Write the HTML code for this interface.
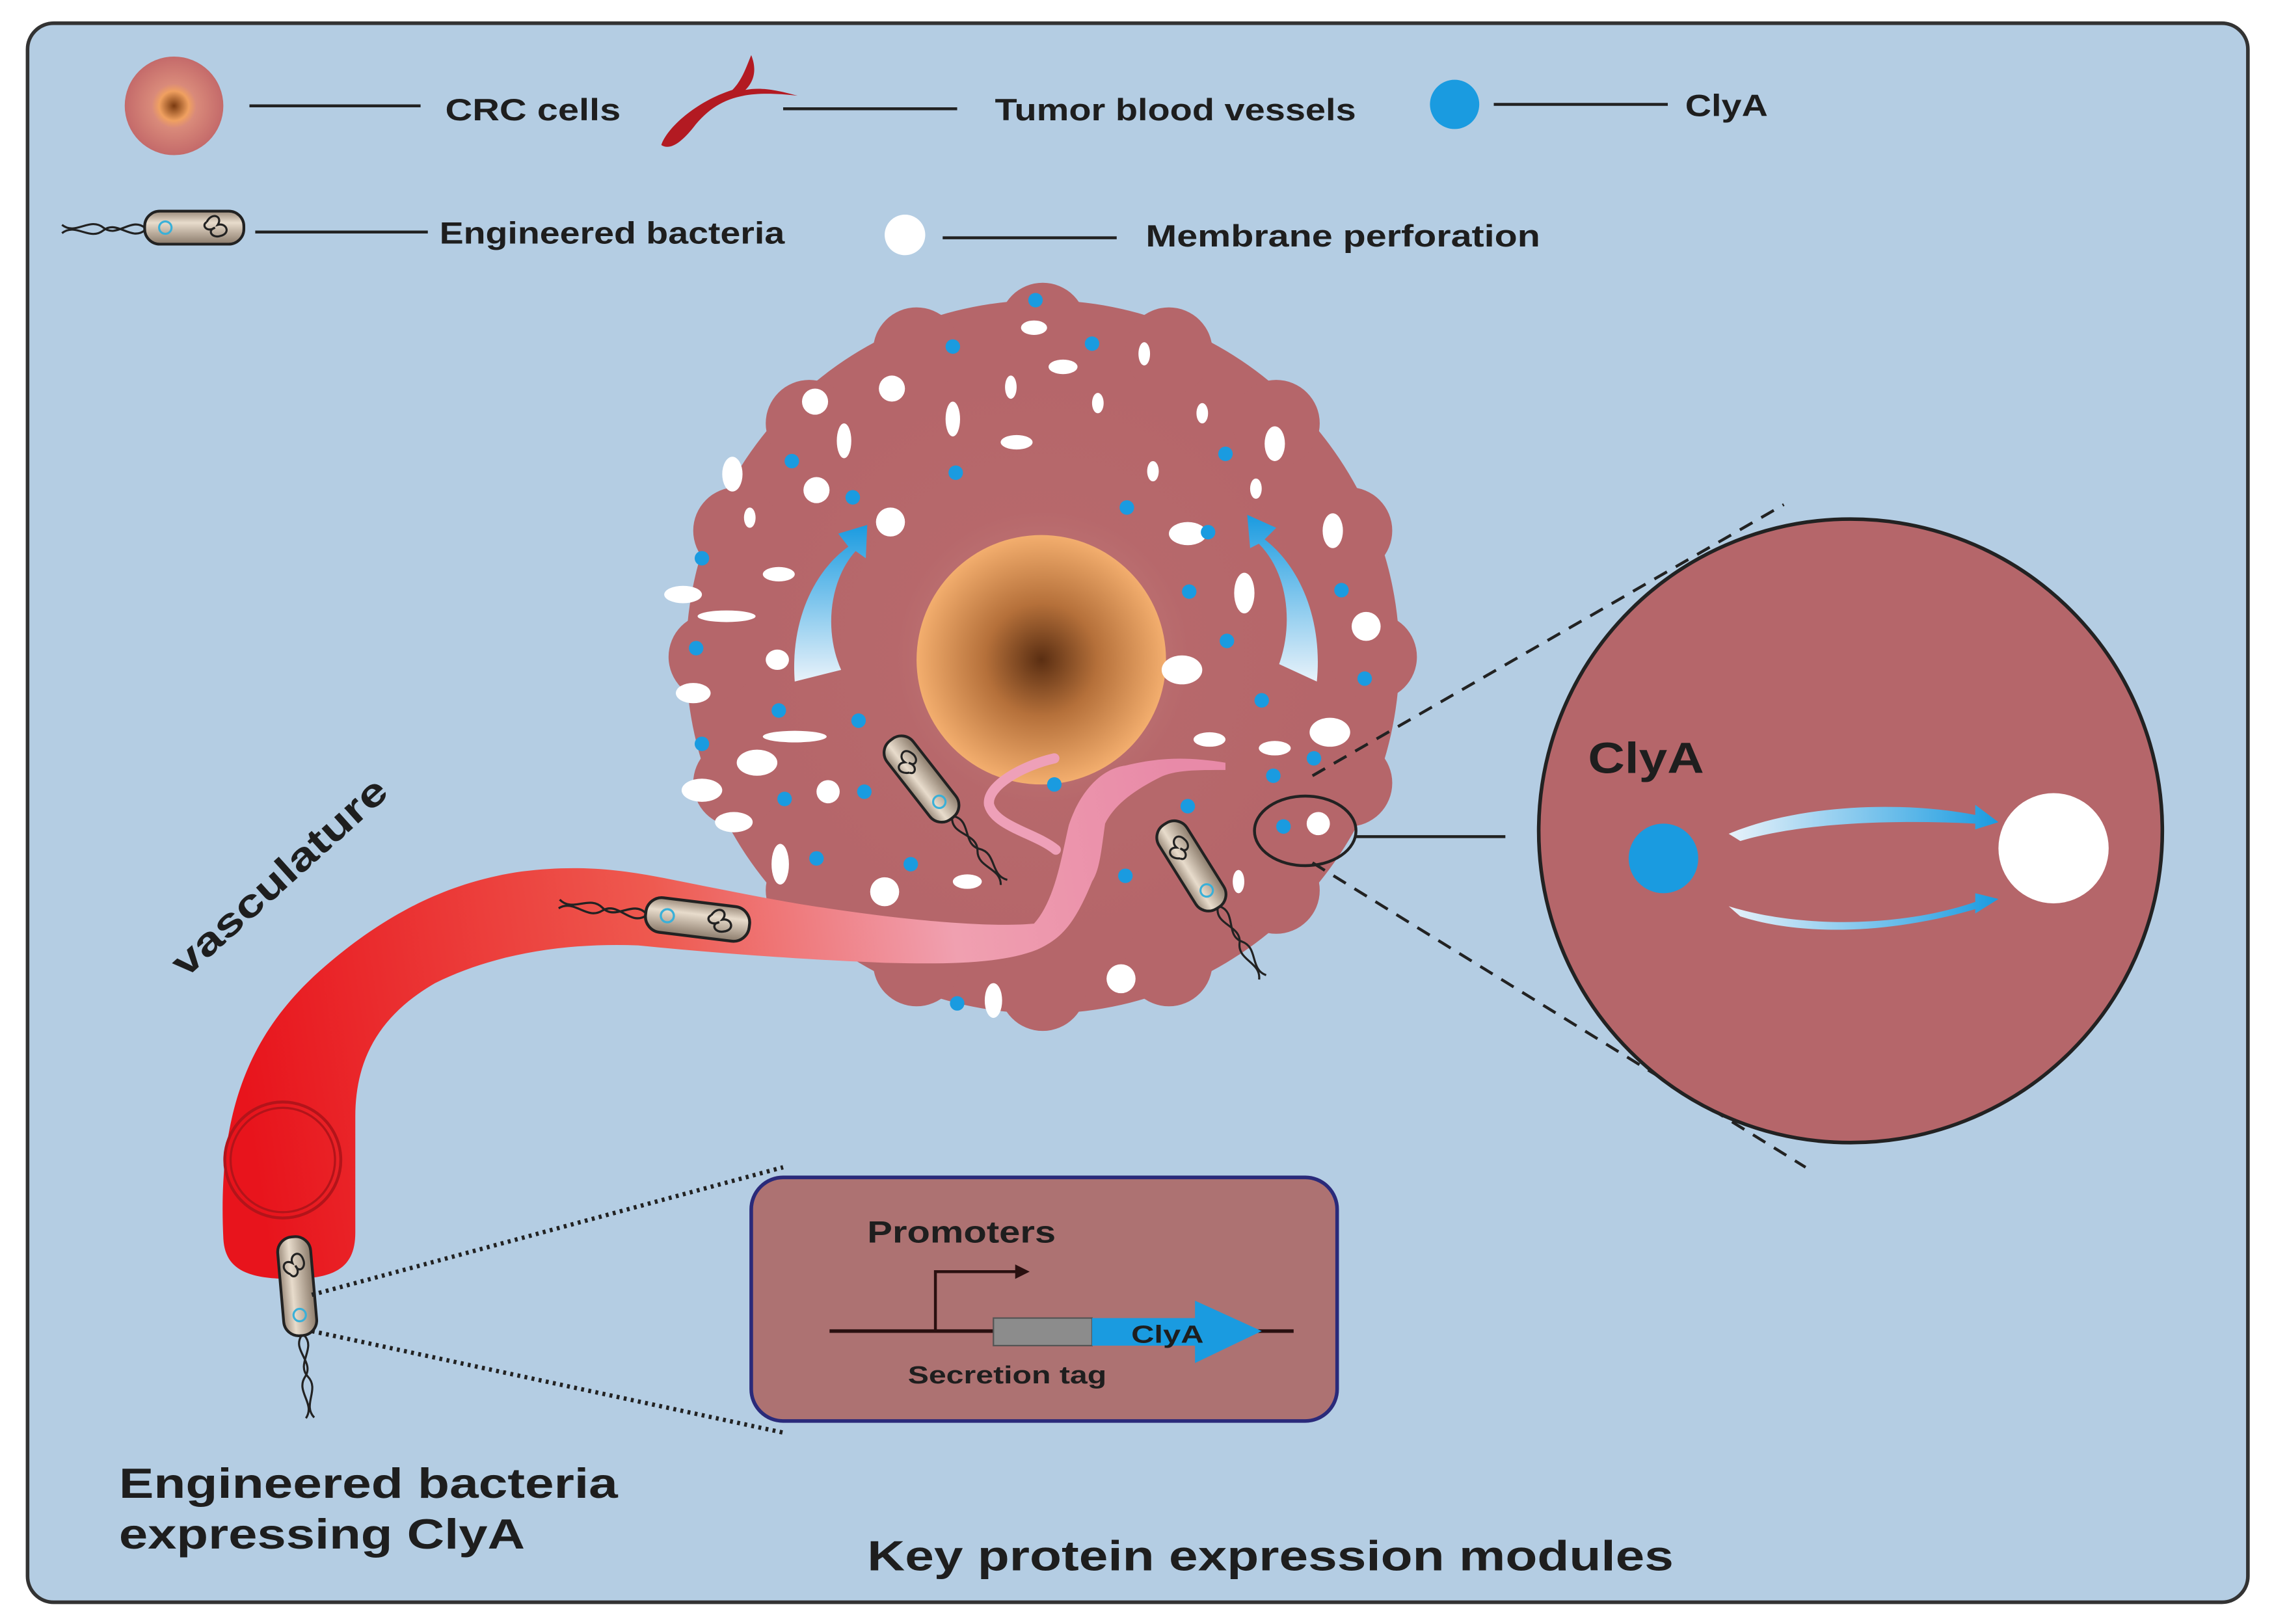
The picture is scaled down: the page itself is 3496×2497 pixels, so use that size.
<!DOCTYPE html>
<html><head><meta charset="utf-8"><style>
html,body{margin:0;padding:0;background:#fff}
svg{display:block}
text{font-family:"Liberation Sans",sans-serif;font-weight:bold;fill:#1e1e1e}
</style></head><body>
<svg width="3496" height="2497" viewBox="0 0 1568 1120" preserveAspectRatio="none" xmlns="http://www.w3.org/2000/svg">
<defs>
<radialGradient id="nuc" cx="0.5" cy="0.5" r="0.5"><stop offset="0" stop-color="#5a2e12"/><stop offset="0.45" stop-color="#b5703a"/><stop offset="1" stop-color="#f3ae6e"/></radialGradient>
<radialGradient id="cellg" cx="0.5" cy="0.5" r="0.5"><stop offset="0" stop-color="#d89a90"/><stop offset="0.5" stop-color="#b86a6c"/><stop offset="1" stop-color="#b5666a"/></radialGradient>
<radialGradient id="lcell" cx="0.5" cy="0.5" r="0.5"><stop offset="0" stop-color="#7a3a10"/><stop offset="0.3" stop-color="#f0a060"/><stop offset="0.45" stop-color="#d98a7a"/><stop offset="1" stop-color="#c46a6a"/></radialGradient>
<linearGradient id="bact" x1="0" y1="0" x2="0" y2="1"><stop offset="0" stop-color="#9a8a7a"/><stop offset="0.35" stop-color="#e8dccc"/><stop offset="1" stop-color="#8a7a6a"/></linearGradient>
<linearGradient id="vessel" gradientUnits="userSpaceOnUse" x1="160" y1="700" x2="820" y2="600"><stop offset="0" stop-color="#e8141c"/><stop offset="0.45" stop-color="#ee5a50"/><stop offset="0.75" stop-color="#f0a0b0"/><stop offset="1" stop-color="#e88aa8"/></linearGradient>
<linearGradient id="barr" x1="0" y1="0" x2="1" y2="0"><stop offset="0" stop-color="#e8f2fa"/><stop offset="1" stop-color="#1a9be0"/></linearGradient>
<linearGradient id="barr2" x1="0" y1="1" x2="0" y2="0"><stop offset="0" stop-color="#e8f2fa"/><stop offset="1" stop-color="#1a9be0"/></linearGradient>
<g id="bac">
<path d="M-35,0 C-45,-8 -55,8 -65,0 C-75,-8 -85,6 -95,-2 M-35,2 C-45,10 -55,-6 -65,2 C-75,10 -85,-4 -95,4" fill="none" stroke="#222" stroke-width="1.5"/>
<rect x="-35" y="-12" width="72" height="24" rx="11" fill="url(#bact)" stroke="#222" stroke-width="2"/>
<circle cx="-20" cy="0" r="4.5" fill="none" stroke="#3ab0d8" stroke-width="1.5"/>
<path d="M10,-4 c4,-8 12,-4 8,2 c6,-2 10,6 2,8 c-6,2 -10,-4 -4,-6 c-6,4 -10,-2 -6,-4" fill="none" stroke="#222" stroke-width="1.5"/>
</g>
</defs>
<rect x="0" y="0" width="1568" height="1120" fill="#fff"/>
<rect x="19" y="16" width="1531" height="1089" rx="18" fill="#b4cde3" stroke="#333" stroke-width="2.5"/>

<!-- legend -->
<circle cx="120" cy="73" r="34" fill="url(#lcell)"/>
<line x1="172" y1="73" x2="290" y2="73" stroke="#222" stroke-width="2"/>
<text x="307" y="83" font-size="21" textLength="121" lengthAdjust="spacingAndGlyphs">CRC cells</text>
<path d="M550,66 C515,62 495,66 478,88 C470,98 462,104 456,100 C460,88 480,70 505,62 C512,55 515,45 518,38 C522,48 520,56 514,62 C525,60 535,62 550,66Z" fill="#b31a22"/>
<line x1="540" y1="75" x2="660" y2="75" stroke="#222" stroke-width="2"/>
<text x="686" y="83" font-size="21" textLength="249" lengthAdjust="spacingAndGlyphs">Tumor blood vessels</text>
<circle cx="1003" cy="72" r="17" fill="#1a9be0"/>
<line x1="1030" y1="72" x2="1150" y2="72" stroke="#222" stroke-width="2"/>
<text x="1162" y="80" font-size="21" textLength="57" lengthAdjust="spacingAndGlyphs">ClyA</text>
<use href="#bac" transform="translate(133,157) scale(0.95,0.95)"/>
<line x1="176" y1="160" x2="295" y2="160" stroke="#222" stroke-width="2"/>
<text x="303" y="168" font-size="21" textLength="238" lengthAdjust="spacingAndGlyphs">Engineered bacteria</text>
<circle cx="624" cy="162" r="14" fill="#fff"/>
<line x1="650" y1="164" x2="770" y2="164" stroke="#222" stroke-width="2"/>
<text x="790" y="170" font-size="21" textLength="272" lengthAdjust="spacingAndGlyphs">Membrane perforation</text>

<!-- tumor cell -->
<g fill="#b5666a">
<circle cx="719" cy="453" r="246"/>
<g transform="translate(719,453)">
<circle cx="0" cy="-228" r="30"/><circle cx="87" cy="-211" r="30"/><circle cx="161" cy="-161" r="30"/><circle cx="211" cy="-87" r="30"/><circle cx="228" cy="0" r="30"/><circle cx="211" cy="87" r="30"/><circle cx="161" cy="161" r="30"/><circle cx="87" cy="211" r="30"/><circle cx="0" cy="228" r="30"/><circle cx="-87" cy="211" r="30"/><circle cx="-161" cy="161" r="30"/><circle cx="-211" cy="87" r="30"/><circle cx="-228" cy="0" r="30"/><circle cx="-211" cy="-87" r="30"/><circle cx="-161" cy="-161" r="30"/><circle cx="-87" cy="-211" r="30"/>
</g>
</g>
<circle cx="719" cy="453" r="200" fill="url(#cellg)" opacity="0.6"/>
<circle cx="718" cy="455" r="86" fill="url(#nuc)"/>
<g fill="#fff">
<ellipse cx="713" cy="226" rx="9" ry="5"/><ellipse cx="733" cy="253" rx="10" ry="5"/><ellipse cx="697" cy="267" rx="4" ry="8"/><ellipse cx="789" cy="244" rx="4" ry="8"/><ellipse cx="757" cy="278" rx="4" ry="7"/>
<circle cx="615" cy="268" r="9"/><circle cx="562" cy="277" r="9"/><ellipse cx="582" cy="304" rx="5" ry="12"/><ellipse cx="657" cy="289" rx="5" ry="12"/><ellipse cx="701" cy="305" rx="11" ry="5"/><ellipse cx="829" cy="285" rx="4" ry="7"/><ellipse cx="879" cy="306" rx="7" ry="12"/>
<ellipse cx="505" cy="327" rx="7" ry="12"/><circle cx="563" cy="338" r="9"/><ellipse cx="795" cy="325" rx="4" ry="7"/><ellipse cx="866" cy="337" rx="4" ry="7"/><ellipse cx="517" cy="357" rx="4" ry="7"/><circle cx="614" cy="360" r="10"/><ellipse cx="819" cy="368" rx="13" ry="8"/><ellipse cx="919" cy="366" rx="7" ry="12"/>
<ellipse cx="471" cy="410" rx="13" ry="6"/><ellipse cx="537" cy="396" rx="11" ry="5"/><ellipse cx="501" cy="425" rx="20" ry="4"/><ellipse cx="858" cy="409" rx="7" ry="14"/><circle cx="942" cy="432" r="10"/><ellipse cx="536" cy="455" rx="8" ry="7"/><ellipse cx="815" cy="462" rx="14" ry="10"/><ellipse cx="478" cy="478" rx="12" ry="7"/>
<ellipse cx="917" cy="505" rx="14" ry="10"/><ellipse cx="834" cy="510" rx="11" ry="5"/><ellipse cx="548" cy="508" rx="22" ry="4"/><ellipse cx="522" cy="526" rx="14" ry="9"/><ellipse cx="879" cy="516" rx="11" ry="5"/><ellipse cx="484" cy="545" rx="14" ry="8"/><circle cx="571" cy="546" r="8"/><ellipse cx="506" cy="567" rx="13" ry="7"/><ellipse cx="538" cy="596" rx="6" ry="14"/><circle cx="610" cy="615" r="10"/><ellipse cx="667" cy="608" rx="10" ry="5"/><ellipse cx="854" cy="608" rx="4" ry="8"/><circle cx="773" cy="675" r="10"/><ellipse cx="685" cy="690" rx="6" ry="12"/><circle cx="909" cy="568" r="8"/>
</g>
<g fill="#1a9be0">
<circle cx="714" cy="207" r="5"/><circle cx="657" cy="239" r="5"/><circle cx="753" cy="237" r="5"/><circle cx="845" cy="313" r="5"/><circle cx="546" cy="318" r="5"/><circle cx="659" cy="326" r="5"/><circle cx="588" cy="343" r="5"/><circle cx="777" cy="350" r="5"/><circle cx="833" cy="367" r="5"/><circle cx="484" cy="385" r="5"/><circle cx="820" cy="408" r="5"/><circle cx="925" cy="407" r="5"/><circle cx="846" cy="442" r="5"/><circle cx="480" cy="447" r="5"/><circle cx="941" cy="468" r="5"/><circle cx="870" cy="483" r="5"/><circle cx="537" cy="490" r="5"/><circle cx="592" cy="497" r="5"/><circle cx="484" cy="513" r="5"/><circle cx="906" cy="523" r="5"/><circle cx="878" cy="535" r="5"/><circle cx="727" cy="541" r="5"/><circle cx="541" cy="551" r="5"/><circle cx="596" cy="546" r="5"/><circle cx="819" cy="556" r="5"/><circle cx="885" cy="570" r="5"/><circle cx="563" cy="592" r="5"/><circle cx="628" cy="596" r="5"/><circle cx="776" cy="604" r="5"/><circle cx="660" cy="692" r="5"/>
</g>
<!-- blue curved arrows -->
<path d="M548,470 C545,430 560,395 585,377 L578,368 L598,362 L597,385 L590,380 C572,400 568,435 580,462 Z" fill="url(#barr2)"/>
<path d="M908,470 C912,430 898,392 872,372 L880,364 L860,355 L862,378 L868,375 C888,395 892,430 882,458 Z" fill="url(#barr2)"/>

<!-- vessel -->
<path d="M727,523 C705,528 680,542 682,555 C686,570 715,575 728,586" fill="none" stroke="#eea0b8" stroke-width="7" stroke-linecap="round"/>
<path d="M154,854 C150,770 170,715 220,670 C265,630 310,608 360,601 C400,596 430,600 460,606 C500,614 540,622 568,626 C620,634 680,640 713,637 C728,620 732,590 737,569 C745,545 760,530 776,528 C800,522 820,522 845,526 L845,531 C825,531 810,531 800,536 C780,546 768,556 762,568 C759,590 758,600 753,608 C740,640 730,648 715,655 C690,665 650,665 610,664 C560,662 500,658 440,652 C390,650 340,658 300,678 C262,700 245,730 245,770 L245,850 C245,875 230,882 200,882 C170,882 155,875 154,854Z" fill="url(#vessel)"/>
<circle cx="195" cy="800" r="40" fill="none" stroke="#b3141a" stroke-width="2"/>
<circle cx="195" cy="800" r="36" fill="none" stroke="#b3141a" stroke-width="1.5"/>
<use href="#bac" transform="translate(480,634) rotate(7)"/>
<use href="#bac" transform="translate(636,538) rotate(-128) scale(0.95)"/>
<use href="#bac" transform="translate(822,598) rotate(-122) scale(0.95)"/>
<use href="#bac" transform="translate(205,888) rotate(-95) scale(0.95)"/>
<text x="0" y="0" font-size="27" textLength="190" lengthAdjust="spacingAndGlyphs" transform="translate(128,675) rotate(-42)">vasculature</text>

<!-- zoom -->
<ellipse cx="900" cy="573" rx="35" ry="24" fill="none" stroke="#222" stroke-width="2"/>
<line x1="935" y1="577" x2="1038" y2="577" stroke="#222" stroke-width="2"/>
<line x1="905" y1="535" x2="1230" y2="348" stroke="#222" stroke-width="2" stroke-dasharray="10,7"/>
<line x1="905" y1="595" x2="1245" y2="805" stroke="#222" stroke-width="2" stroke-dasharray="10,7"/>
<circle cx="1276" cy="573" r="215" fill="#b5666a" stroke="#222" stroke-width="2.5"/>
<text x="1095" y="533" font-size="30" textLength="80" lengthAdjust="spacingAndGlyphs">ClyA</text>
<circle cx="1147" cy="592" r="24" fill="#1a9be0"/>
<circle cx="1416" cy="585" r="38" fill="#fff"/>
<path d="M1192,575 C1240,555 1310,552 1362,562 L1362,555 L1378,567 L1362,572 L1362,568 C1300,565 1240,568 1200,580 Z" fill="url(#barr)"/>
<path d="M1192,625 C1240,640 1310,640 1362,622 L1362,616 L1378,620 L1362,630 L1362,627 C1300,645 1240,645 1200,632 Z" fill="url(#barr)"/>

<!-- expression box -->
<line x1="215" y1="893" x2="540" y2="805" stroke="#222" stroke-width="3" stroke-dasharray="2,3"/>
<line x1="215" y1="918" x2="540" y2="988" stroke="#222" stroke-width="3" stroke-dasharray="2,3"/>
<rect x="518" y="812" width="404" height="168" rx="22" fill="#ad7272" stroke="#2a2a7a" stroke-width="2.5"/>
<text x="598" y="857" font-size="21" fill="#2a1a1a" textLength="130" lengthAdjust="spacingAndGlyphs">Promoters</text>
<line x1="572" y1="918" x2="892" y2="918" stroke="#2a1010" stroke-width="2.5"/>
<path d="M645,918 V877 H702" fill="none" stroke="#2a1010" stroke-width="2"/>
<path d="M700,872 L710,877 L700,882Z" fill="#2a1010"/>
<rect x="685" y="909" width="68" height="19" fill="#8c8c8c" stroke="#555"/>
<path d="M753,909 H824 V897 L870,918 L824,940 V928 H753Z" fill="#1a9be0"/>
<text x="780" y="926" font-size="17" fill="#1a1a2a" textLength="50" lengthAdjust="spacingAndGlyphs">ClyA</text>
<text x="626" y="954" font-size="17" fill="#2a1a1a" textLength="137" lengthAdjust="spacingAndGlyphs">Secretion tag</text>

<text x="82" y="1033" font-size="29" textLength="344" lengthAdjust="spacingAndGlyphs">Engineered bacteria</text>
<text x="82" y="1068" font-size="29" textLength="280" lengthAdjust="spacingAndGlyphs">expressing ClyA</text>
<text x="598" y="1083" font-size="29" textLength="556" lengthAdjust="spacingAndGlyphs">Key protein expression modules</text>
</svg>
</body></html>
